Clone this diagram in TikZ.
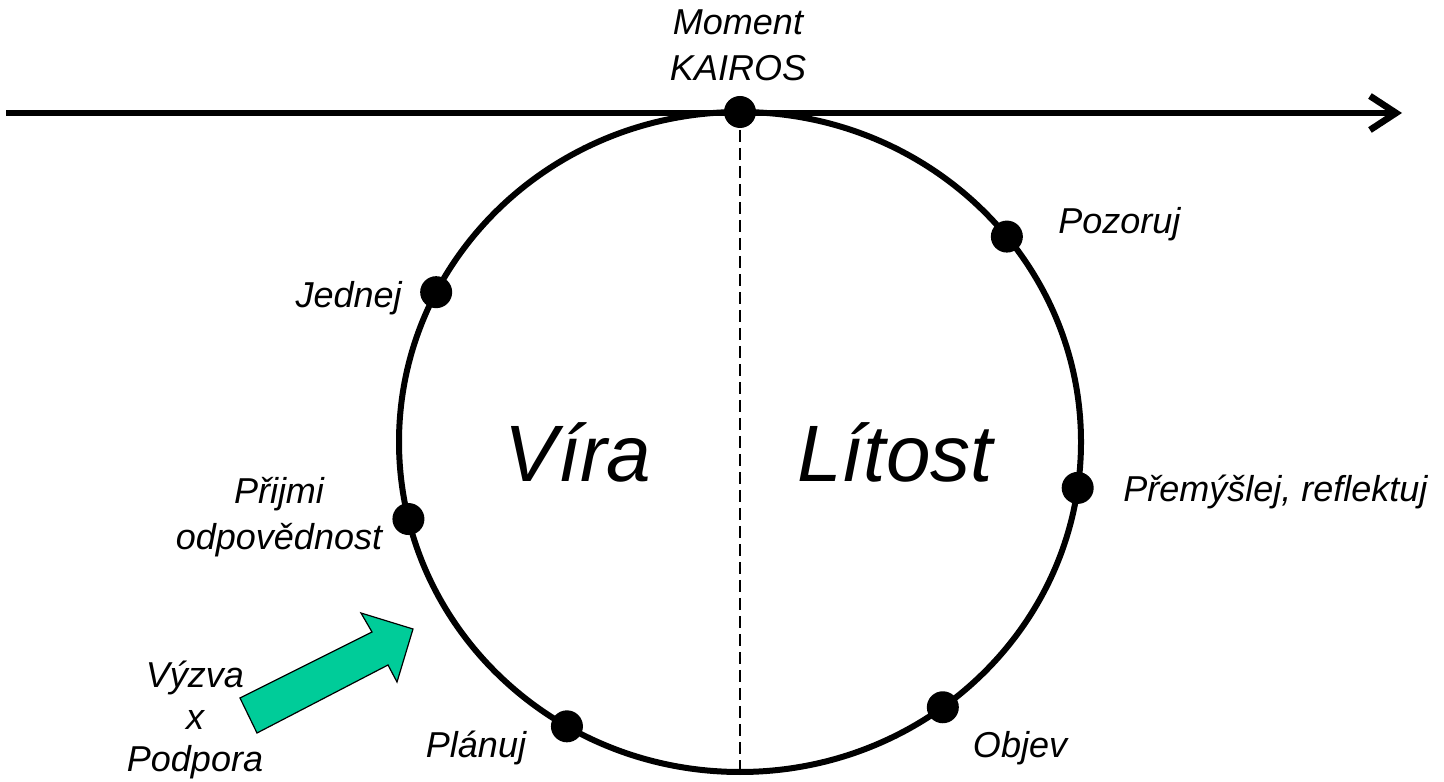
\documentclass[tikz,border=0pt]{standalone}
\usepackage{fontspec}
\setmainfont{Liberation Sans}
\usepackage{tikz}
\usetikzlibrary{
    arrows.meta,
    calc,
    positioning
}

\tikzset{
    dot/.style={circle,fill=black,inner sep=0pt,minimum size=16pt},
    lbl/.style={font=\fontsize{18}{23}\selectfont\itshape,align=center,inner sep=0pt},
    big/.style={font=\fontsize{40}{48}\selectfont\itshape,inner sep=0pt},
    greenarrow/.style={fill={rgb,255:red,0;green,204;blue,153},draw=black,line width=0.6pt,line join=miter}
}

\begin{document}
\begin{tikzpicture}[x=0.5pt,y=0.5pt]

\useasboundingbox (0,0) rectangle (1444,781);

% Time axis
\coordinate (tstart) at (6,668);
\coordinate (tend) at (1402,668);
\draw[line width=3.3pt,-{Straight Barb[length=13pt,width=17pt,line width=3.3pt]}] (tstart) -- (tend);

% Cycle (slightly wider than high)
\coordinate (c) at (740,339);
\draw[line width=3pt] (c) ellipse [x radius=341, y radius=330];

% Divider
\coordinate (bottom) at (740,9);
\draw[line width=1pt,dash pattern=on 6pt off 3pt] (740,669) -- (bottom);

% Points on the cycle
\node[dot] (kairos) at (740,669) {};
\node[dot] (pozoruj) at ($(c)+(38.5:341 and 330)$) {};
\node[dot] (premyslej) at ($(c)+(-8:341 and 330)$) {};
\node[dot] (objev) at ($(c)+(-53.5:341 and 330)$) {};
\node[dot] (planuj) at ($(c)+(-120.5:341 and 330)$) {};
\node[dot] (prijmi) at ($(c)+(193.5:341 and 330)$) {};
\node[dot] (jednej) at ($(c)+(153:341 and 330)$) {};

% Labels
\node[lbl] (kairoslbl) at (738,736) {Moment\\KAIROS};
\node[lbl,anchor=west] (pozorujlbl) at (1058,557) {Pozoruj};
\node[lbl,anchor=west] (premyslejlbl) at (1123,289) {Přemýšlej, reflektuj};
\node[lbl] (objevlbl) at (1020,33) {Objev};
\node[lbl] (planujlbl) at (476,33) {Plánuj};
\node[lbl] (prijmilbl) at (279,264) {Přijmi\\odpovědnost};
\node[lbl,anchor=east] (jednejlbl) at (402,483) {Jednej};
\node[lbl,font=\fontsize{18}{21}\selectfont\itshape] (vyzvalbl) at (195,61) {Výzva\\x\\Podpora};

% Halves
\node[big] (vira) at (578,329) {Víra};
\node[big] (litost) at (895,329) {Lítost};

% Impulse arrow
\draw[greenarrow] (240,83) -- (372,149) -- (361,168) -- (413,152)
    -- (397,99) -- (388,116) -- (257,48) -- cycle;

\end{tikzpicture}
\end{document}
